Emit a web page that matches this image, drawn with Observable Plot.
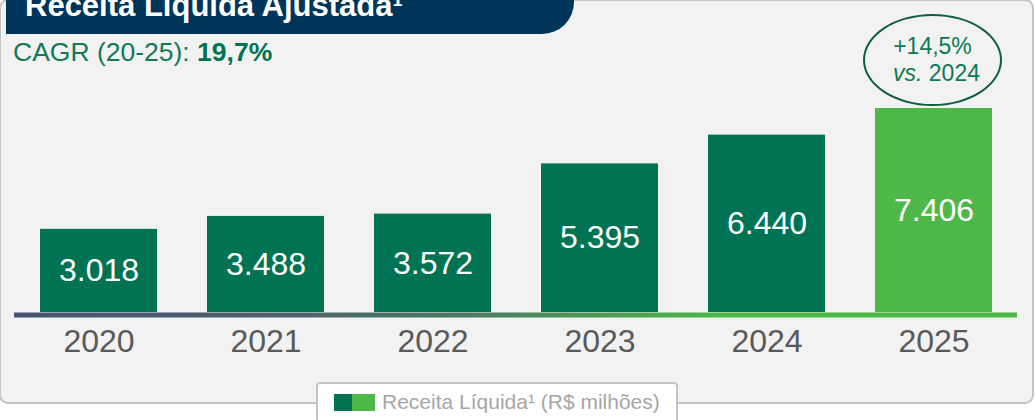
<!DOCTYPE html>
<html>
<head>
<meta charset="utf-8">
<script src="https://cdn.jsdelivr.net/npm/d3@7"></script>
<script src="https://cdn.jsdelivr.net/npm/@observablehq/plot@0.6"></script>
<style>
  html, body { margin: 0; padding: 0; background: #ffffff; }
  body { width: 1035px; height: 420px; overflow: hidden; position: relative; font-family: "Liberation Sans", Arial, sans-serif; }
  #card { position: absolute; left: -1px; top: -1px; width: 1035px; height: 405px; box-sizing: border-box; border: 2px solid #c4c4c4; border-radius: 9px; background: #f2f2f2; }
  #hdr { position: absolute; left: 6px; top: -30px; width: 568px; height: 64px; background: #00355a; border-bottom-right-radius: 32px; }
  #title { position: absolute; left: 25px; top: -10px; font-size: 31px; line-height: 1; font-weight: bold; color: #ffffff; white-space: nowrap; }
  #cagr { position: absolute; left: 13px; top: 39px; font-size: 26.5px; line-height: 1; color: #127a56; white-space: nowrap; }
  #cagr b { color: #00734f; }
  #chart { position: absolute; left: 0; top: 0; }
  #ellipse { position: absolute; left: 863px; top: 14px; width: 139px; height: 92px; box-sizing: border-box; border: 2.5px solid #0f5d40; border-radius: 50%; }
  .ann { position: absolute; left: 863px; width: 139px; text-align: center; font-size: 23px; line-height: 1; color: #0b7a52; white-space: nowrap; }
  #legend { position: absolute; left: 316px; top: 382px; width: 362px; height: 60px; box-sizing: border-box; background: #ffffff; border: 2px solid #c4c4c4; border-radius: 4px; }
  .sw { position: absolute; top: 10px; height: 17px; }
  #legtext { position: absolute; left: 64px; top: 7px; font-size: 21px; line-height: 1; color: #a6a6a6; white-space: nowrap; }
</style>
</head>
<body>
<div id="card"></div>
<div id="hdr"></div>
<div id="title"></div>
<div id="cagr"></div>
<div id="chart"></div>
<div id="ellipse"></div>
<div class="ann" id="ann1" style="top:35px"></div>
<div class="ann" id="ann2" style="top:62px;left:867px"></div>
<div id="legend">
  <div class="sw" id="sw1" style="left:16px;width:18px"></div>
  <div class="sw" id="sw2" style="left:34px;width:23px"></div>
  <div id="legtext"></div>
</div>
<script>
const years = ["2020", "2021", "2022", "2023", "2024", "2025"];
const revenue = [3018, 3488, 3572, 5395, 6440, 7406];
const highlightYear = "2025";
const titleText = "Receita Líquida Ajustada¹";
const cagrLabel = "CAGR (20-25): ";
const cagrValue = "19,7%";
const growthLabel = "+14,5%";
const growthBase = "2024";
const legendLabel = "Receita Líquida¹ (R$ milhões)";

const darkGreen = "#007352";
const lightGreen = "#4db848";

document.getElementById("title").textContent = titleText;
document.getElementById("cagr").innerHTML = cagrLabel + "<b>" + cagrValue + "</b>";
document.getElementById("ann1").textContent = growthLabel;
document.getElementById("ann2").innerHTML = "<i>vs.</i> " + growthBase;
document.getElementById("legtext").textContent = legendLabel;
document.getElementById("sw1").style.background = darkGreen;
document.getElementById("sw2").style.background = lightGreen;

const data = years.map((year, i) => ({year, value: revenue[i]}));
const fmt = d3.formatLocale({decimal: ",", thousands: ".", grouping: [3], currency: ["R$", ""]}).format(",d");

const gradient = () => {
  const defs = d3.create("svg:defs");
  const g = defs.append("linearGradient")
    .attr("id", "axisGrad")
    .attr("gradientUnits", "userSpaceOnUse")
    .attr("x1", "1%").attr("x2", "99%").attr("y1", 0).attr("y2", 0);
  [["0%", "#465371"], ["22%", "#4a5e6e"], ["45%", "#4b7a62"], ["62%", "#4ea252"], ["70%", "#4db848"], ["100%", "#4db848"]]
    .forEach(([o, c]) => g.append("stop").attr("offset", o).attr("stop-color", c));
  return defs.node();
};

const chart = Plot.plot({
  width: 1035,
  height: 420,
  marginLeft: 40,
  marginRight: 43,
  marginTop: 108,
  marginBottom: 108,
  style: {background: "transparent", fontFamily: "'Liberation Sans', Arial, sans-serif", overflow: "visible"},
  x: {domain: years, paddingInner: 0.3, paddingOuter: 0, label: null},
  y: {domain: [0, d3.max(revenue)], axis: null},
  marks: [
    gradient,
    Plot.barY(data, {x: "year", y: "value", fill: d => d.year === highlightYear ? lightGreen : darkGreen}),
    Plot.ruleY([0], {stroke: "url(#axisGrad)", strokeWidth: 5, dy: 2.5, insetLeft: -26, insetRight: -25}),
    Plot.text(data, {x: "year", y: d => d.value / 2, text: d => fmt(d.value), fill: "#ffffff", fontSize: 32}),
    Plot.axisX({tickSize: 0, tickPadding: 17, fontSize: 32, fill: "#595959"})
  ],
  color: {type: "identity"}
});
document.getElementById("chart").appendChild(chart);
</script>
</body>
</html>
